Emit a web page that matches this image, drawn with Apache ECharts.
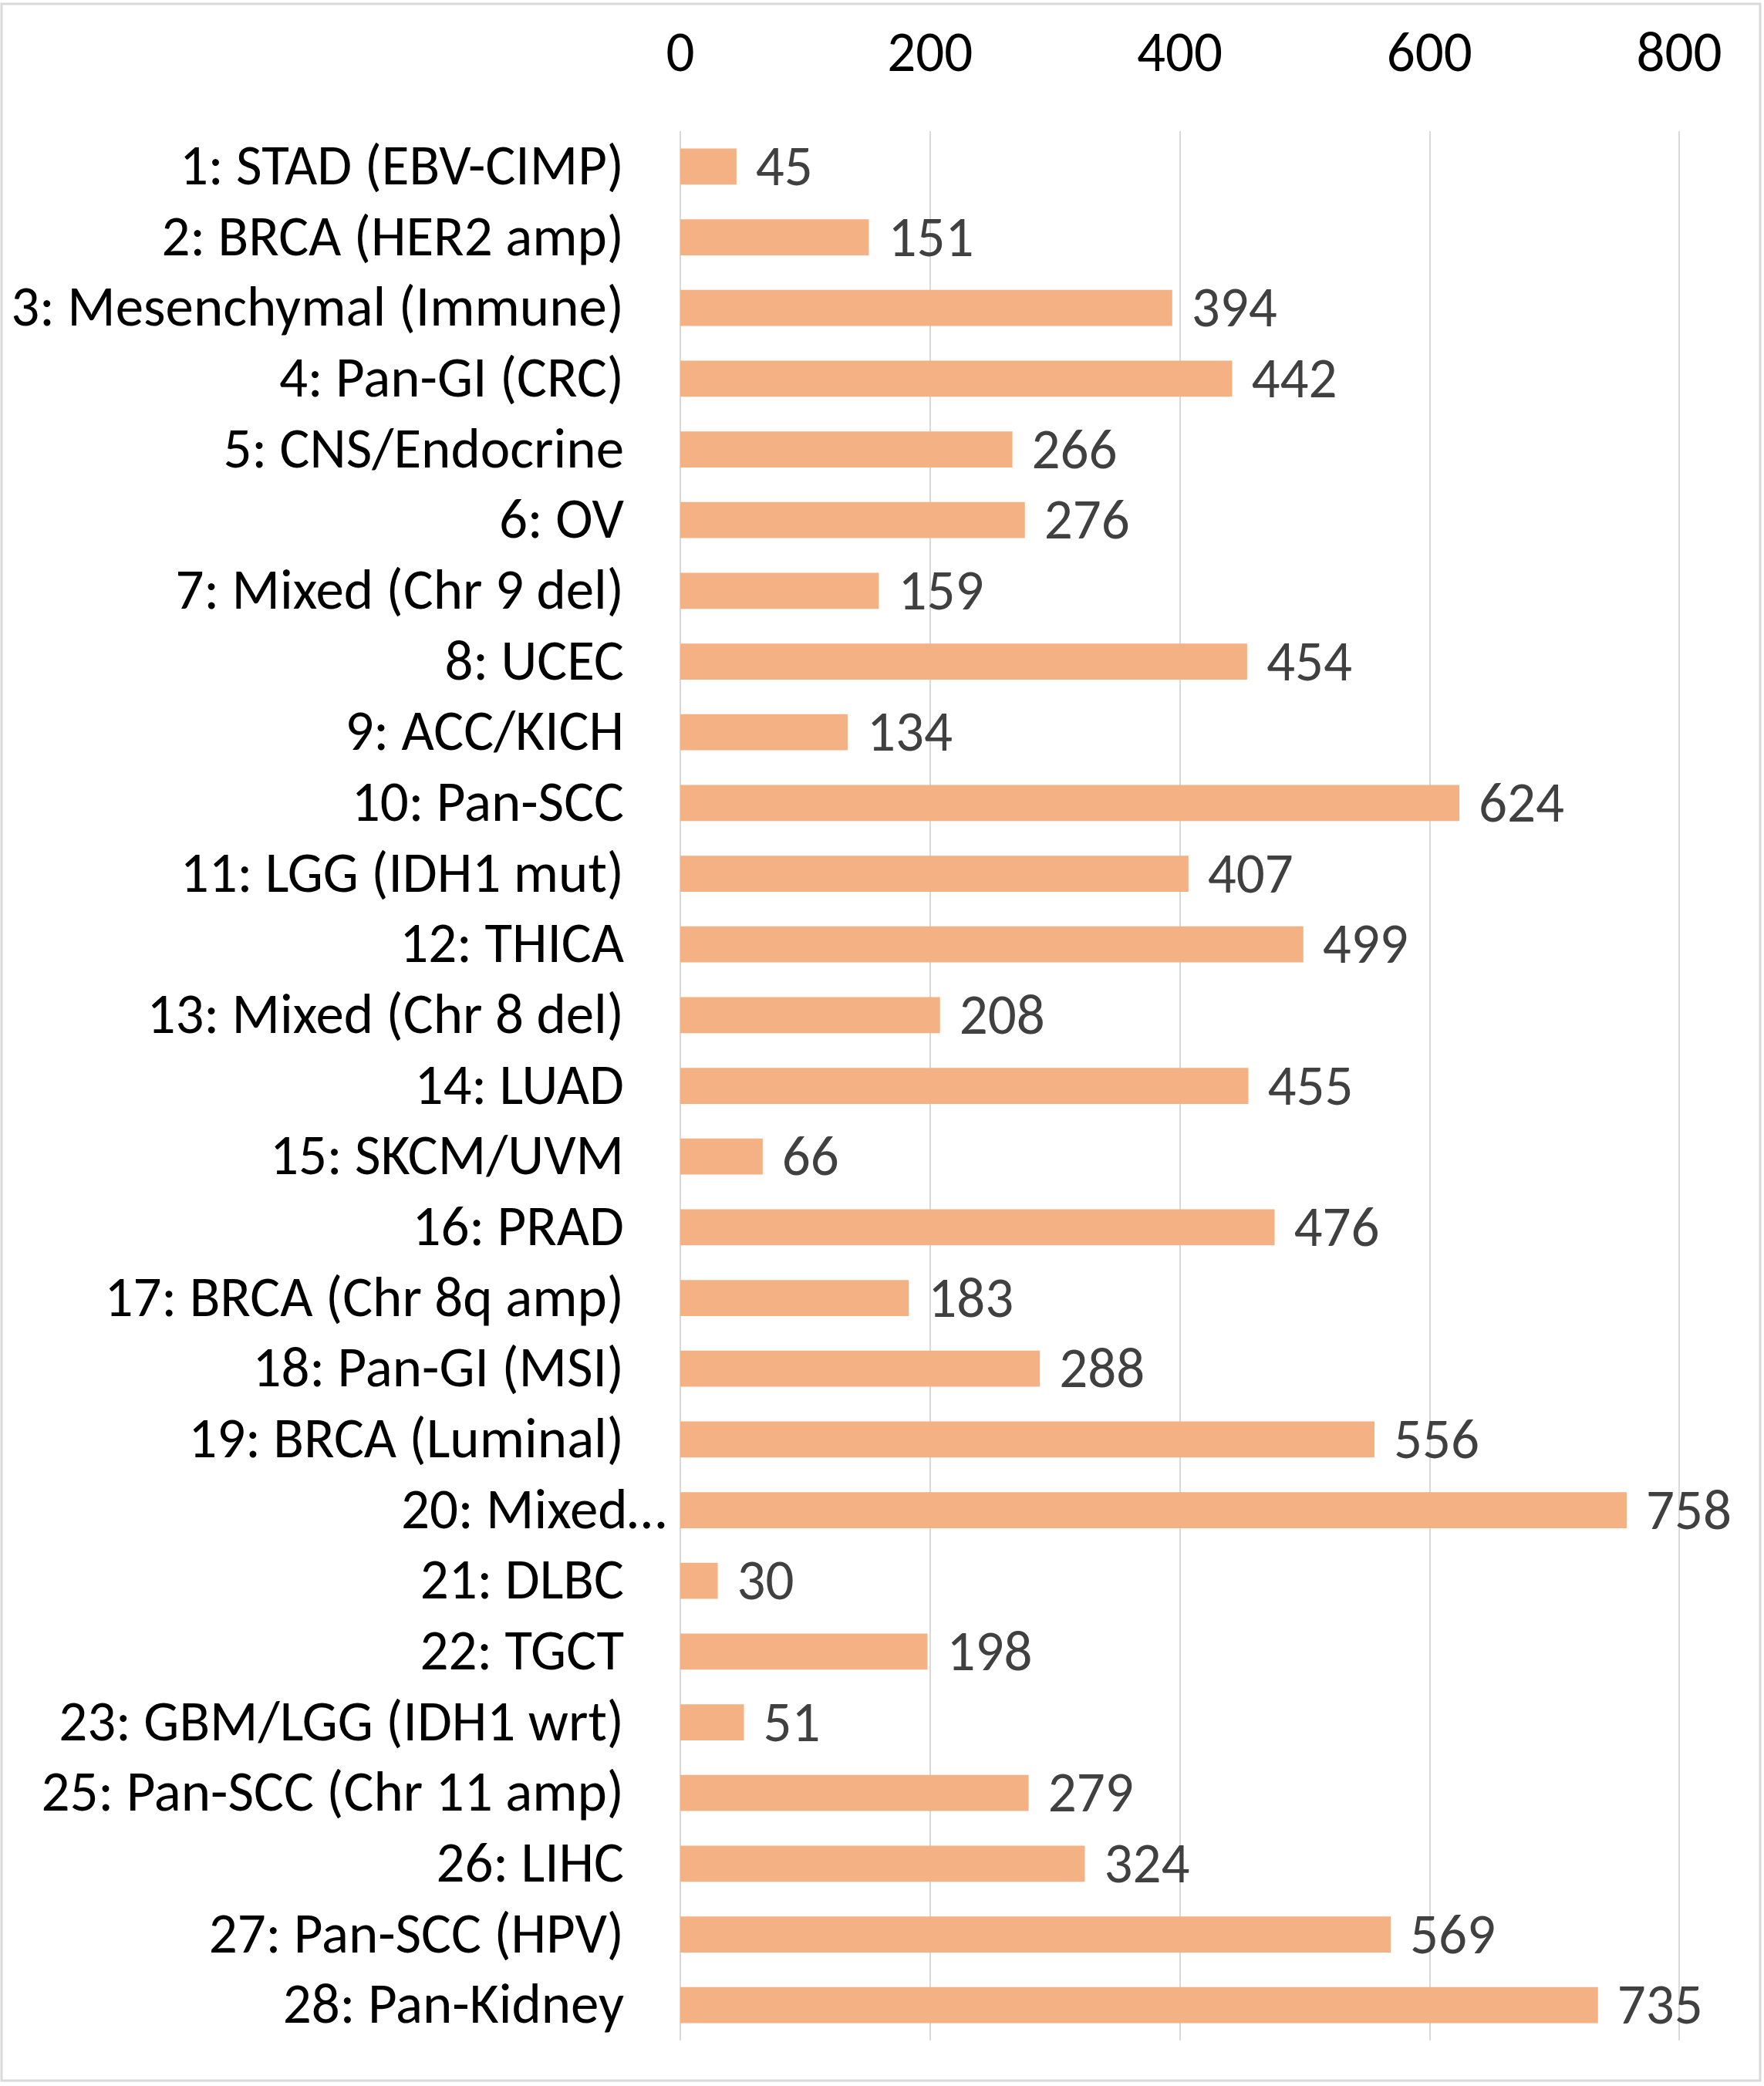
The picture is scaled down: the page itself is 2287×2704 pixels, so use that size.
<!DOCTYPE html>
<html>
<head>
<meta charset="utf-8">
<script src="https://cdn.jsdelivr.net/npm/echarts@6/dist/echarts.min.js"></script>
<style>
  html, body { margin: 0; padding: 0; background: #fff; }
  #chart { width: 2287px; height: 2704px; }
</style>
</head>
<body>
<div id="chart"></div>
<script>
// categories, top to bottom
const categories = [
  "1: STAD (EBV-CIMP)", "2: BRCA (HER2 amp)", "3: Mesenchymal (Immune)",
  "4: Pan-GI (CRC)", "5: CNS/Endocrine", "6: OV", "7: Mixed (Chr 9 del)",
  "8: UCEC", "9: ACC/KICH", "10: Pan-SCC", "11: LGG (IDH1 mut)", "12: THICA",
  "13: Mixed (Chr 8 del)", "14: LUAD", "15: SKCM/UVM", "16: PRAD",
  "17: BRCA (Chr 8q amp)", "18: Pan-GI (MSI)", "19: BRCA (Luminal)",
  "20: Mixed…", "21: DLBC", "22: TGCT", "23: GBM/LGG (IDH1 wrt)",
  "25: Pan-SCC (Chr 11 amp)", "26: LIHC", "27: Pan-SCC (HPV)", "28: Pan-Kidney"
];
const counts = [45, 151, 394, 442, 266, 276, 159, 454, 134, 624, 407, 499, 208,
  455, 66, 476, 183, 288, 556, 758, 30, 198, 51, 279, 324, 569, 735];
const xTicks = [0, 200, 400, 600, 800];

const FONT = "Carlito, 'Liberation Sans', sans-serif";
const SIZE = 73;
const chart = echarts.init(document.getElementById("chart"));

chart.setOption({
  backgroundColor: "#fff",
  animation: false,
  graphic: [{
    type: "rect",
    shape: { x: 2, y: 5, width: 2280, height: 2692 },
    style: { fill: "none", stroke: "#d9d9d9", lineWidth: 3 }
  }],
  grid: { left: 882, right: 110, top: 170, bottom: 59 },
  xAxis: {
    type: "value",
    position: "top",
    min: xTicks[0],
    max: xTicks[xTicks.length - 1],
    interval: 200,
    axisLine: { show: false },
    axisTick: { show: false },
    splitLine: { lineStyle: { color: "#d9d9d9", width: 2 } },
    axisLabel: { fontFamily: FONT, fontSize: SIZE, color: "#000", margin: 60 }
  },
  yAxis: {
    type: "category",
    inverse: true,
    data: categories,
    axisLine: { show: false },
    axisTick: { show: false },
    axisLabel: {
      interval: 0,
      fontFamily: FONT, fontSize: SIZE, color: "#000", margin: 18,
      // the truncated label runs closer to the axis, as in the source
      formatter: v => v.indexOf("…") >= 0 ? "{q|" + v + "}" : "{p|" + v + "}",
      rich: {
        p: { fontFamily: FONT, fontSize: SIZE, color: "#000", padding: [10, 55, 0, 0] },
        q: { fontFamily: FONT, fontSize: SIZE, color: "#000", padding: [10, 0, 0, 0] }
      }
    }
  },
  series: [{
    type: "bar",
    data: counts,
    barCategoryGap: "49%",
    itemStyle: { color: "#F4B183" },
    label: {
      show: true,
      position: "right",
      distance: 25,
      offset: [0, 6],
      fontFamily: FONT,
      fontSize: SIZE,
      color: "#404040"
    }
  }]
});
</script>
</body>
</html>
